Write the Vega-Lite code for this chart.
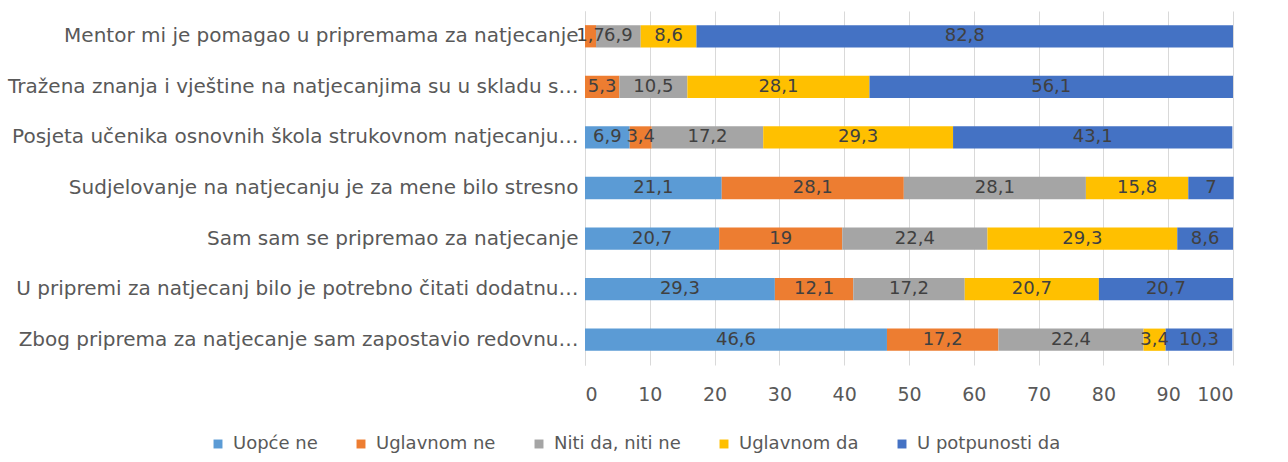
{
  "$schema": "https://vega.github.io/schema/vega-lite/v6.json",
  "width": 648,
  "height": 354,
  "autosize": "none",
  "padding": {"left": 585, "top": 11, "right": 55, "bottom": 97},
  "config": {
    "view": {"stroke": null},
    "font": "DejaVu Sans",
    "locale": {"number": {"decimal": ",", "thousands": ".", "grouping": [3], "currency": ["", " €"]}}
  },
  "data": {"values": [
    {"q": "Mentor mi je pomagao u pripremama za natjecanje", "series": "Uglavnom ne", "rank": 2, "value": 1.7},
    {"q": "Mentor mi je pomagao u pripremama za natjecanje", "series": "Niti da, niti ne", "rank": 3, "value": 6.9},
    {"q": "Mentor mi je pomagao u pripremama za natjecanje", "series": "Uglavnom da", "rank": 4, "value": 8.6},
    {"q": "Mentor mi je pomagao u pripremama za natjecanje", "series": "U potpunosti da", "rank": 5, "value": 82.8},
    {"q": "Tražena znanja i vještine na natjecanjima su u skladu s…", "series": "Uglavnom ne", "rank": 2, "value": 5.3},
    {"q": "Tražena znanja i vještine na natjecanjima su u skladu s…", "series": "Niti da, niti ne", "rank": 3, "value": 10.5},
    {"q": "Tražena znanja i vještine na natjecanjima su u skladu s…", "series": "Uglavnom da", "rank": 4, "value": 28.1},
    {"q": "Tražena znanja i vještine na natjecanjima su u skladu s…", "series": "U potpunosti da", "rank": 5, "value": 56.1},
    {"q": "Posjeta učenika osnovnih škola strukovnom natjecanju…", "series": "Uopće ne", "rank": 1, "value": 6.9},
    {"q": "Posjeta učenika osnovnih škola strukovnom natjecanju…", "series": "Uglavnom ne", "rank": 2, "value": 3.4},
    {"q": "Posjeta učenika osnovnih škola strukovnom natjecanju…", "series": "Niti da, niti ne", "rank": 3, "value": 17.2},
    {"q": "Posjeta učenika osnovnih škola strukovnom natjecanju…", "series": "Uglavnom da", "rank": 4, "value": 29.3},
    {"q": "Posjeta učenika osnovnih škola strukovnom natjecanju…", "series": "U potpunosti da", "rank": 5, "value": 43.1},
    {"q": "Sudjelovanje na natjecanju je za mene bilo stresno", "series": "Uopće ne", "rank": 1, "value": 21.1},
    {"q": "Sudjelovanje na natjecanju je za mene bilo stresno", "series": "Uglavnom ne", "rank": 2, "value": 28.1},
    {"q": "Sudjelovanje na natjecanju je za mene bilo stresno", "series": "Niti da, niti ne", "rank": 3, "value": 28.1},
    {"q": "Sudjelovanje na natjecanju je za mene bilo stresno", "series": "Uglavnom da", "rank": 4, "value": 15.8},
    {"q": "Sudjelovanje na natjecanju je za mene bilo stresno", "series": "U potpunosti da", "rank": 5, "value": 7},
    {"q": "Sam sam se pripremao za natjecanje", "series": "Uopće ne", "rank": 1, "value": 20.7},
    {"q": "Sam sam se pripremao za natjecanje", "series": "Uglavnom ne", "rank": 2, "value": 19},
    {"q": "Sam sam se pripremao za natjecanje", "series": "Niti da, niti ne", "rank": 3, "value": 22.4},
    {"q": "Sam sam se pripremao za natjecanje", "series": "Uglavnom da", "rank": 4, "value": 29.3},
    {"q": "Sam sam se pripremao za natjecanje", "series": "U potpunosti da", "rank": 5, "value": 8.6},
    {"q": "U pripremi za natjecanj bilo je potrebno čitati dodatnu…", "series": "Uopće ne", "rank": 1, "value": 29.3},
    {"q": "U pripremi za natjecanj bilo je potrebno čitati dodatnu…", "series": "Uglavnom ne", "rank": 2, "value": 12.1},
    {"q": "U pripremi za natjecanj bilo je potrebno čitati dodatnu…", "series": "Niti da, niti ne", "rank": 3, "value": 17.2},
    {"q": "U pripremi za natjecanj bilo je potrebno čitati dodatnu…", "series": "Uglavnom da", "rank": 4, "value": 20.7},
    {"q": "U pripremi za natjecanj bilo je potrebno čitati dodatnu…", "series": "U potpunosti da", "rank": 5, "value": 20.7},
    {"q": "Zbog priprema za natjecanje sam zapostavio redovnu…", "series": "Uopće ne", "rank": 1, "value": 46.6},
    {"q": "Zbog priprema za natjecanje sam zapostavio redovnu…", "series": "Uglavnom ne", "rank": 2, "value": 17.2},
    {"q": "Zbog priprema za natjecanje sam zapostavio redovnu…", "series": "Niti da, niti ne", "rank": 3, "value": 22.4},
    {"q": "Zbog priprema za natjecanje sam zapostavio redovnu…", "series": "Uglavnom da", "rank": 4, "value": 3.4},
    {"q": "Zbog priprema za natjecanje sam zapostavio redovnu…", "series": "U potpunosti da", "rank": 5, "value": 10.3}
  ]},
  "transform": [
    {"stack": "value", "groupby": ["q"], "sort": [{"field": "rank", "order": "ascending"}], "as": ["x0", "x1"]},
    {"calculate": "(datum.x0 + datum.x1) / 2", "as": "mid"}
  ],
  "encoding": {
    "y": {
      "field": "q", "type": "nominal",
      "sort": [
        "Mentor mi je pomagao u pripremama za natjecanje",
        "Tražena znanja i vještine na natjecanjima su u skladu s…",
        "Posjeta učenika osnovnih škola strukovnom natjecanju…",
        "Sudjelovanje na natjecanju je za mene bilo stresno",
        "Sam sam se pripremao za natjecanje",
        "U pripremi za natjecanj bilo je potrebno čitati dodatnu…",
        "Zbog priprema za natjecanje sam zapostavio redovnu…"
      ],
      "scale": {"paddingInner": 0.56, "paddingOuter": 0.28},
      "axis": {
        "title": null, "ticks": false, "domain": true, "domainColor": "#d9d9d9",
        "labelFontSize": 20, "labelColor": "#595959", "labelPadding": 7, "labelLimit": 700
      }
    }
  },
  "layer": [
    {
      "mark": {"type": "bar"},
      "encoding": {
        "x": {
          "field": "x0", "type": "quantitative",
          "scale": {"domain": [0, 100], "nice": false},
          "axis": {
            "title": null, "values": [0, 10, 20, 30, 40, 50, 60, 70, 80, 90, 100],
            "grid": true, "gridColor": "#d9d9d9", "domain": false, "ticks": false,
            "labelFontSize": 19, "labelColor": "#595959", "labelPadding": 20
          }
        },
        "x2": {"field": "x1"},
        "color": {
          "field": "series", "type": "nominal",
          "scale": {
            "domain": ["Uopće ne", "Uglavnom ne", "Niti da, niti ne", "Uglavnom da", "U potpunosti da"],
            "range": ["#5B9BD5", "#ED7D31", "#A5A5A5", "#FFC000", "#4472C4"]
          },
          "legend": {
            "title": null, "orient": "none", "direction": "horizontal",
            "legendX": -376, "legendY": 424,
            "symbolType": "square", "symbolSize": 80, "symbolStrokeWidth": 0,
            "labelFontSize": 18, "labelColor": "#595959", "columnPadding": 34, "labelOffset": 6
          }
        }
      }
    },
    {
      "mark": {"type": "text", "fontSize": 18, "color": "#404040"},
      "encoding": {
        "x": {"field": "mid", "type": "quantitative"},
        "text": {"field": "value", "type": "quantitative", "format": ".1~f"}
      }
    }
  ]
}
